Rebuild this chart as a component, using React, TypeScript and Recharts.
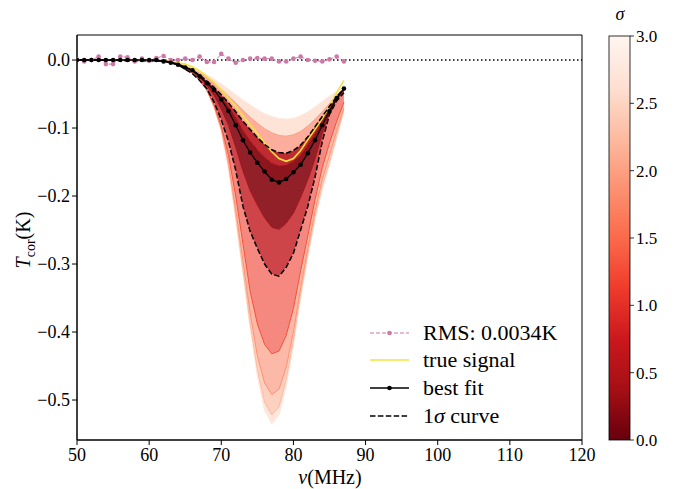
import React from "react";
import {
  ComposedChart,
  Line,
  Area,
  XAxis,
  YAxis,
  ReferenceLine,
  ReferenceArea,
} from "recharts";

const SERIF = "'Liberation Serif', 'Times New Roman', serif";

// frequency grid of the measured spectrum (MHz)
const freqs = [
  50, 51, 52, 53, 54, 55, 56, 57, 58, 59, 60, 61, 62, 63, 64, 65, 66, 67, 68,
  69, 70, 71, 72, 73, 74, 75, 76, 77, 78, 79, 80, 81, 82, 83, 84, 85, 86, 87,
];

const residuals = [
  0.001, -0.002, 0.0, 0.005, -0.006, -0.006, 0.005, 0.004, -0.002, 0.002,
  -0.001, 0.003, 0.006, 0.0, 0.0, 0.002, 0.0, 0.005, -0.003, -0.003, 0.009,
  0.002, -0.004, 0.0, 0.002, 0.003, 0.002, 0.002, -0.002, -0.002, 0.002, 0.005,
  0.0, -0.001, -0.002, 0.001, 0.005, -0.002,
];

const trueSignal = [
  0, 0, 0, 0, 0, 0, 0, 0, 0, 0, 0, 0, 0, -0.002, -0.004, -0.006, -0.01,
  -0.016, -0.024, -0.033, -0.044, -0.056, -0.068, -0.082, -0.095, -0.108,
  -0.122, -0.135, -0.145, -0.149, -0.145, -0.133, -0.117, -0.102, -0.086,
  -0.068, -0.048, -0.03,
];

const bestFit = [
  0, 0, 0, 0, 0, 0, 0, 0, 0, 0, 0, 0, -0.002, -0.004, -0.007, -0.011, -0.015,
  -0.024, -0.034, -0.044, -0.058, -0.075, -0.096, -0.118, -0.136, -0.151,
  -0.164, -0.176, -0.18, -0.175, -0.165, -0.154, -0.137, -0.118, -0.096,
  -0.075, -0.056, -0.042,
];

// sampled model curves at different sigma levels
const fanX = [
  50, 62, 64, 66, 67, 68, 69, 70, 71, 72, 73, 74, 75, 76, 77, 78, 79, 80, 81,
  82, 83, 84, 85, 86, 87,
];

const upper3 = [
  0, -0.001, -0.004, -0.011, -0.016, -0.022, -0.028, -0.035, -0.043, -0.051,
  -0.059, -0.066, -0.073, -0.079, -0.083, -0.086, -0.087, -0.086, -0.082,
  -0.076, -0.069, -0.061, -0.053, -0.046, -0.04,
];
const upper2 = [
  0, -0.001, -0.005, -0.013, -0.019, -0.026, -0.034, -0.043, -0.053, -0.063,
  -0.074, -0.084, -0.093, -0.101, -0.107, -0.111, -0.112, -0.11, -0.105,
  -0.097, -0.087, -0.076, -0.064, -0.052, -0.042,
];
const upper1 = [
  0, -0.001, -0.006, -0.015, -0.022, -0.031, -0.04, -0.051, -0.063, -0.076,
  -0.09, -0.102, -0.114, -0.124, -0.132, -0.136, -0.137, -0.133, -0.125,
  -0.113, -0.098, -0.083, -0.068, -0.054, -0.042,
];
const upper05 = [
  0, -0.001, -0.006, -0.015, -0.023, -0.032, -0.042, -0.054, -0.068, -0.085,
  -0.104, -0.119, -0.132, -0.143, -0.152, -0.156, -0.155, -0.149, -0.14,
  -0.125, -0.108, -0.09, -0.071, -0.055, -0.042,
];
const lower05 = [
  0, -0.001, -0.007, -0.017, -0.026, -0.037, -0.052, -0.072, -0.096, -0.128,
  -0.163, -0.192, -0.213, -0.232, -0.246, -0.249, -0.24, -0.225, -0.202,
  -0.176, -0.145, -0.108, -0.078, -0.058, -0.045,
];
const lower1 = [
  0, -0.001, -0.007, -0.02, -0.03, -0.042, -0.062, -0.088, -0.12, -0.162,
  -0.215, -0.252, -0.277, -0.3, -0.315, -0.318, -0.305, -0.284, -0.25, -0.215,
  -0.172, -0.12, -0.08, -0.06, -0.048,
];
const lower15 = [
  0, -0.001, -0.007, -0.019, -0.03, -0.044, -0.066, -0.097, -0.14, -0.2,
  -0.27, -0.34, -0.388, -0.418, -0.432, -0.428, -0.405, -0.365, -0.31, -0.258,
  -0.205, -0.158, -0.122, -0.09, -0.062,
];
const lower2 = [
  0, -0.001, -0.006, -0.018, -0.03, -0.044, -0.068, -0.101, -0.15, -0.22,
  -0.295, -0.372, -0.435, -0.475, -0.492, -0.484, -0.452, -0.4, -0.335,
  -0.277, -0.222, -0.176, -0.14, -0.104, -0.07,
];
const lower25 = [
  0, -0.001, -0.006, -0.018, -0.03, -0.045, -0.069, -0.103, -0.156, -0.229,
  -0.308, -0.387, -0.455, -0.503, -0.522, -0.51, -0.47, -0.412, -0.344,
  -0.285, -0.23, -0.185, -0.15, -0.111, -0.073,
];
const lower3 = [
  0, -0.001, -0.006, -0.018, -0.03, -0.045, -0.07, -0.105, -0.16, -0.235,
  -0.315, -0.395, -0.465, -0.515, -0.535, -0.522, -0.48, -0.42, -0.35, -0.29,
  -0.235, -0.19, -0.155, -0.115, -0.075,
];

const xTicks = [50, 60, 70, 80, 90, 100, 110, 120];
const yTicks = [0, -0.1, -0.2, -0.3, -0.4, -0.5];
const sigmaTicks = [0, 0.5, 1, 1.5, 2, 2.5, 3];
const legendLabels = ["RMS: 0.0034K", "true signal", "best fit", "curve"];

const Y_MIN = -0.5588;
const Y_MAX = 0.0368;

// Reds colormap, reversed (sigma 0 -> dark)
const cmapStops = [
  "#67000d", "#a50f15", "#cb181d", "#ef3b2c", "#fb6a4a",
  "#fc9272", "#fcbba1", "#fee0d2", "#fff5f0",
];

const rows = (ys: number[]) => freqs.map((x, i) => ({ x, y: ys[i] }));
const fanRows = (ys: number[]) => fanX.map((x, i) => ({ x, y: ys[i] }));
const bestOnFan = fanX.map((x) => bestFit[freqs.indexOf(x)]);
const bandRows = (a: number[], b: number[]) =>
  fanX.map((x, i) => ({ x, band: [a[i], b[i]] }));

const bands = [
  { a: upper2, b: upper3, color: "#fdd4c2", op: 0.65 },
  { a: upper1, b: upper2, color: "#fb6a4a", op: 0.55 },
  { a: upper05, b: upper1, color: "#b81419", op: 0.9 },
  { a: bestOnFan, b: upper05, color: "#860812", op: 0.95 },
  { a: lower25, b: lower3, color: "#fee0d2", op: 0.8 },
  { a: lower2, b: lower25, color: "#fcb196", op: 0.6 },
  { a: lower15, b: lower2, color: "#fc7f5f", op: 0.55 },
  { a: lower1, b: lower15, color: "#ef3b2c", op: 0.6 },
  { a: lower05, b: lower1, color: "#c0161c", op: 0.8 },
  { a: bestOnFan, b: lower05, color: "#860812", op: 0.9 },
];

const fanLines = [
  { ys: upper3, color: "#fee7dc" },
  { ys: upper2, color: "#fca082" },
  { ys: upper05, color: "#a50f15" },
  { ys: lower3, color: "#fee7dc" },
  { ys: lower25, color: "#fcbba1" },
  { ys: lower2, color: "#fc9272" },
  { ys: lower15, color: "#f4503a" },
  { ys: lower05, color: "#a50f15" },
];

const fmtY = (v: number) =>
  v === 0 ? "0.0" : "\u2212" + Math.abs(v).toFixed(1);

const XTick = ({ x, y, payload }: any) => (
  <text x={x} y={y + 14} textAnchor="middle" fontFamily={SERIF} fontSize={18} fill="#000">
    {payload.value}
  </text>
);

const YTick = ({ x, y, payload }: any) => (
  <text x={x} y={y + 6} textAnchor="end" fontFamily={SERIF} fontSize={18} fill="#000">
    {fmtY(payload.value)}
  </text>
);

const YLabel = () => (
  <text
    x={30}
    y={240}
    transform="rotate(-90, 30, 240)"
    textAnchor="middle"
    fontFamily={SERIF}
    fontSize={20}
    fill="#000"
  >
    <tspan fontStyle="italic">T</tspan>
    <tspan fontSize={14} dy={5}>cor</tspan>
    <tspan dy={-5}>(K)</tspan>
  </text>
);

const XLabel = () => (
  <text
    x={330}
    y={484}
    textAnchor="middle"
    fontFamily={SERIF}
    fontSize={20}
    fill="#000"
  >
    <tspan fontStyle="italic">ν</tspan>
    <tspan>(MHz)</tspan>
  </text>
);

function Overlay() {
  const barTop = 36;
  const barBottom = 440;
  const rowY = [333, 360, 388, 416];
  return (
    <svg
      width={680}
      height={489}
      style={{ position: "absolute", left: 0, top: 0, pointerEvents: "none" }}
    >
      <defs>
        <linearGradient id="cmap" x1="0" y1="1" x2="0" y2="0">
          {cmapStops.map((c, i) => (
            <stop key={i} offset={i / (cmapStops.length - 1)} stopColor={c} />
          ))}
        </linearGradient>
      </defs>
      {/* legend */}
      <g fontFamily={SERIF} fontSize={22} fill="#000">
        <line x1={370} x2={409} y1={rowY[0]} y2={rowY[0]} stroke="#cc79a7" strokeWidth={1.2} strokeDasharray="4 2" />
        <circle cx={389.5} cy={rowY[0]} r={2.3} fill="#cc79a7" />
        <line x1={370} x2={409} y1={rowY[1]} y2={rowY[1]} stroke="#f0e442" strokeWidth={1.6} />
        <line x1={370} x2={409} y1={rowY[2]} y2={rowY[2]} stroke="#000" strokeWidth={1.3} />
        <circle cx={389.5} cy={rowY[2]} r={2.3} fill="#000" />
        <line x1={370} x2={409} y1={rowY[3]} y2={rowY[3]} stroke="#000" strokeWidth={1.5} strokeDasharray="5.5 2.4" />
        <text x={423} y={rowY[0] + 7}>{legendLabels[0]}</text>
        <text x={423} y={rowY[1] + 7}>{legendLabels[1]}</text>
        <text x={423} y={rowY[2] + 7}>{legendLabels[2]}</text>
        <text x={423} y={rowY[3] + 7}>
          1<tspan fontStyle="italic">σ</tspan> {legendLabels[3]}
        </text>
      </g>
      {/* colorbar */}
      <rect x={609} y={barTop} width={21} height={barBottom - barTop} fill="url(#cmap)" stroke="#000" strokeWidth={0.8} />
      {sigmaTicks.map((s) => {
        const y = barBottom - (s / 3) * (barBottom - barTop);
        return (
          <g key={s}>
            <line x1={630} x2={634} y1={y} y2={y} stroke="#000" strokeWidth={0.8} />
            <text x={636} y={y + 6} fontFamily={SERIF} fontSize={17} fill="#000">
              {s.toFixed(1)}
            </text>
          </g>
        );
      })}
      <text x={620} y={20} textAnchor="middle" fontFamily={SERIF} fontSize={18} fontStyle="italic" fill="#000">
        σ
      </text>
    </svg>
  );
}

export default function App() {
  return (
    <div style={{ position: "absolute", left: 0, top: 0, width: 680, height: 489, background: "#fff" }}>
      <ComposedChart
        width={680}
        height={489}
        margin={{ top: 35, right: 98, bottom: 0, left: 0 }}
        style={{ fontFamily: SERIF }}
      >
        <XAxis
          dataKey="x"
          type="number"
          domain={[50, 120]}
          ticks={xTicks}
          allowDataOverflow
          height={49}
          tickSize={5}
          stroke="#000"
          tick={<XTick />}
          label={{ content: () => <XLabel /> }}
        />
        <YAxis
          type="number"
          domain={[Y_MIN, Y_MAX]}
          ticks={yTicks}
          allowDataOverflow
          width={77}
          tickSize={5}
          stroke="#000"
          tick={<YTick />}
          label={{ content: () => <YLabel /> }}
        />
        {bands.map((b, i) => (
          <Area
            key={"band" + i}
            data={bandRows(b.a, b.b)}
            dataKey="band"
            type="linear"
            stroke="none"
            fill={b.color}
            fillOpacity={b.op}
            isAnimationActive={false}
          />
        ))}
        {fanLines.map((l, i) => (
          <Line
            key={"fan" + i}
            data={fanRows(l.ys)}
            dataKey="y"
            type="linear"
            stroke={l.color}
            strokeWidth={1}
            dot={false}
            activeDot={false}
            isAnimationActive={false}
          />
        ))}
        <ReferenceLine y={0} stroke="#000" strokeWidth={1.3} strokeDasharray="1.5 2.5" />
        <Line
          data={rows(residuals)}
          dataKey="y"
          type="linear"
          stroke="#cc79a7"
          strokeWidth={1}
          strokeDasharray="4 2"
          dot={{ r: 2.3, fill: "#cc79a7", stroke: "#cc79a7", strokeWidth: 0 }}
          activeDot={false}
          isAnimationActive={false}
        />
        <Line
          data={rows(trueSignal)}
          dataKey="y"
          type="linear"
          stroke="#f0e442"
          strokeWidth={1.6}
          dot={false}
          activeDot={false}
          isAnimationActive={false}
        />
        <Line
          data={rows(bestFit)}
          dataKey="y"
          type="linear"
          stroke="#000"
          strokeWidth={1.3}
          dot={{ r: 2.3, fill: "#000", stroke: "#000", strokeWidth: 0 }}
          activeDot={false}
          isAnimationActive={false}
        />
        <Line
          data={fanRows(upper1)}
          dataKey="y"
          type="linear"
          stroke="#000"
          strokeWidth={1.5}
          strokeDasharray="5.5 2.4"
          dot={false}
          activeDot={false}
          isAnimationActive={false}
        />
        <Line
          data={fanRows(lower1)}
          dataKey="y"
          type="linear"
          stroke="#000"
          strokeWidth={1.5}
          strokeDasharray="5.5 2.4"
          dot={false}
          activeDot={false}
          isAnimationActive={false}
        />
        <ReferenceArea x1={50} x2={120} y1={Y_MIN} y2={Y_MAX} fill="none" stroke="#000" strokeWidth={1} />
      </ComposedChart>
      <Overlay />
    </div>
  );
}
